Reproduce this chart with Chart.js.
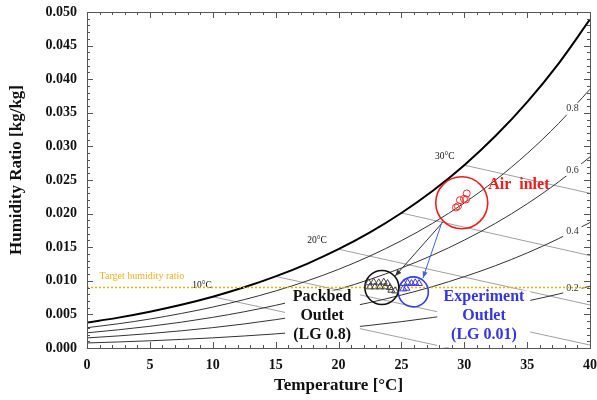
<!DOCTYPE html>
<html><head><meta charset="utf-8">
<script src="https://cdn.jsdelivr.net/npm/chart.js@4"></script>
<style>html,body{margin:0;padding:0;background:#fff}</style>
</head><body>
<canvas id="c" width="597" height="400"></canvas>
<script>
// ---- data ----
const temps = [0,2.5,5,7.5,10,12.5,15,17.5,20,22.5,25,27.5,30,32.5,35,37.5,40];
const rh100 = [0.00378,0.00452,0.00540,0.00643,0.00763,0.00903,0.01065,0.01253,0.01470,0.01720,0.02009,0.02340,0.02721,0.03158,0.03659,0.04233,0.04890];
const rh80  = [0.00302,0.00361,0.00431,0.00514,0.00609,0.00720,0.00849,0.00998,0.01170,0.01369,0.01597,0.01858,0.02158,0.02501,0.02893,0.03341,0.03851];
const rh60  = [0.00226,0.00271,0.00323,0.00384,0.00456,0.00539,0.00635,0.00746,0.00874,0.01021,0.01190,0.01383,0.01605,0.01857,0.02145,0.02472,0.02844];
const rh40  = [0.00150,0.00180,0.00215,0.00256,0.00303,0.00358,0.00422,0.00495,0.00580,0.00677,0.00788,0.00915,0.01061,0.01226,0.01414,0.01627,0.01868];
const rh20  = [0.00075,0.00090,0.00107,0.00128,0.00151,0.00179,0.00210,0.00247,0.00289,0.00337,0.00392,0.00454,0.00526,0.00607,0.00699,0.00803,0.00920];
const rhLabels = ['0.8','0.6','0.4','0.2'];
const rhLabelW = [0.0356,0.0265,0.0174,0.0089];

// wet-bulb lines (start on saturation, end at right edge / zero)
const wbNames = ['10°C','15°C','20°C','25°C','30°C'];
const wbT = [[10,28.8],[15,40],[20,40],[25,40],[30,40]];
const wbW = [[0.00763,0],[0.01065,0.00044],[0.01470,0.00640],[0.02009,0.01375],[0.02721,0.02302]];
const wbLabelText = ['10°C','20°C','30°C'];
const wbLabelT = [9.15,18.3,28.45];
const wbLabelW = [0.00925,0.01607,0.02857];

const targetW = 0.009;

const inletT = [30.2,29.98,30.14,29.66,29.5,29.34];
const inletW = [0.0230,0.0222,0.0221,0.0220,0.0211,0.0209];
const packT = [22.4,22.8,23.2,23.6,23.9,22.5,22.9,23.3,23.7,24.1,24.2,24.5];
const packW = [0.0097,0.0098,0.0097,0.0098,0.0096,0.0091,0.0091,0.0091,0.0091,0.0090,0.0086,0.0085];
const expT = [25.2,25.5,25.8,26.1,26.4,25.4,25.15];
const expW = [0.0096,0.0097,0.0096,0.0097,0.0096,0.0089,0.0088];

const xTicks = [0,5,10,15,20,25,30,35,40];
const yTicks = [0,0.005,0.010,0.015,0.020,0.025,0.030,0.035,0.040,0.045,0.050];

// ---- build datasets ----
const pts = (xs, ys) => xs.map((x,i)=>({x:x,y:ys[i]}));
const SERIF = "'Liberation Serif','Times New Roman',serif";

const datasets = [];
datasets.push({kind:'m', data:pts(inletT,inletW), showLine:false, pointStyle:'circle', pointRadius:3.5, borderColor:'#f03030', backgroundColor:'rgba(0,0,0,0)', borderWidth:1, order:1});
datasets.push({kind:'m', data:pts(packT,packW), showLine:false, pointStyle:'triangle', pointRadius:4, borderColor:'#444', backgroundColor:'rgba(0,0,0,0)', borderWidth:1, order:1});
datasets.push({kind:'m', data:pts(expT,expW), showLine:false, pointStyle:'triangle', pointRadius:4, borderColor:'#3a3ae8', backgroundColor:'rgba(0,0,0,0)', borderWidth:1, order:1});
datasets.push({kind:'m', data:[{x:29.8,y:0.02162}], showLine:false, pointRadius:26, borderColor:'#ee1c1c', backgroundColor:'rgba(0,0,0,0)', borderWidth:1.6, order:1});
datasets.push({kind:'m', data:[{x:23.45,y:0.0090}], showLine:false, pointRadius:17, borderColor:'#111', backgroundColor:'rgba(0,0,0,0)', borderWidth:1.6, order:1});
datasets.push({kind:'m', data:[{x:25.95,y:0.00835}], showLine:false, pointRadius:15, borderColor:'#2f3fe8', backgroundColor:'rgba(0,0,0,0)', borderWidth:1.6, order:1});
datasets.push({kind:'target', data:[{x:0,y:targetW},{x:40,y:targetW}], showLine:true, pointRadius:0, borderColor:'#f5ae00', borderWidth:1.6, borderDash:[2,2], order:2});
datasets.push({kind:'c', data:pts(temps,rh100), showLine:true, pointRadius:0, borderColor:'#000', borderWidth:2, cubicInterpolationMode:'monotone', order:3});
[rh80,rh60,rh40,rh20].forEach(a=>datasets.push({kind:'c', data:pts(temps,a), showLine:true, pointRadius:0, borderColor:'#333', borderWidth:1, cubicInterpolationMode:'monotone', order:3}));
wbT.forEach((t,i)=>datasets.push({kind:'c', data:pts(t,wbW[i]), showLine:true, pointRadius:0, borderColor:'#a0a0a0', borderWidth:1, order:4}));

function px(chart, x, y){ return [chart.scales.x.getPixelForValue(x), chart.scales.y.getPixelForValue(y)]; }

const deco = {
  id:'deco',
  beforeDatasetDraw(chart, args){
    if (chart.data.datasets[args.index].kind !== 'target') return;
    const ctx = chart.ctx;
    ctx.save();
    ctx.fillStyle = '#fff';
    let a = px(chart,15.75,0.00855), b = px(chart,21.7,0.00012);
    ctx.fillRect(a[0],a[1],b[0]-a[0],b[1]-a[1]);
    a = px(chart,27.85,0.00855); b = px(chart,35.25,0.00012);
    ctx.fillRect(a[0],a[1],b[0]-a[0],b[1]-a[1]);
    ctx.font = '10px ' + SERIF;
    ctx.textAlign = 'center'; ctx.textBaseline = 'middle';
    rhLabels.forEach((s,i)=>{
      const p = px(chart,38.6,rhLabelW[i]);
      const w = ctx.measureText(s).width + 6;
      ctx.fillStyle = '#fff'; ctx.fillRect(p[0]-w/2,p[1]-6,w,12);
      ctx.fillStyle = '#333'; ctx.fillText(s,p[0],p[1]);
    });
    ctx.font = '9.5px ' + SERIF; ctx.fillStyle = '#111';
    wbLabelText.forEach((s,i)=>{ const p = px(chart,wbLabelT[i],wbLabelW[i]); ctx.fillText(s,p[0],p[1]); });
    ctx.font = '10px ' + SERIF; ctx.fillStyle = '#f0b020'; ctx.textAlign='left';
    let p = px(chart,1.0,0.0107); ctx.fillText('Target humidity ratio',p[0],p[1]);
    ctx.font = 'bold 16px ' + SERIF; ctx.textAlign='center';
    ctx.fillStyle = '#111';
    [['Packbed',0.0076],['Outlet',0.0048],['(LG 0.8)',0.0019]].forEach(r=>{ const q=px(chart,18.7,r[1]); ctx.fillText(r[0],q[0],q[1]); });
    ctx.fillStyle = '#3434e8';
    [['Experiment',0.0076],['Outlet',0.0048],['(LG 0.01)',0.0019]].forEach(r=>{ const q=px(chart,31.57,r[1]); ctx.fillText(r[0],q[0],q[1]); });
    ctx.fillStyle = '#ee1c1c'; ctx.textAlign='left';
    p = px(chart,31.9,0.02426); ctx.fillText('Air  inlet',p[0],p[1]);
    ctx.restore();
  },
  afterDatasetsDraw(chart){
    const ctx = chart.ctx, ca = chart.chartArea;
    ctx.save();
    const arrow = (x1,y1,x2,y2,col)=>{
      const s = px(chart,x1,y1), e = px(chart,x2,y2);
      ctx.strokeStyle = col; ctx.fillStyle = col; ctx.lineWidth = 1;
      ctx.beginPath(); ctx.moveTo(s[0],s[1]); ctx.lineTo(e[0],e[1]); ctx.stroke();
      const ang = Math.atan2(e[1]-s[1], e[0]-s[0]), L = 7, H = 0.38;
      ctx.beginPath(); ctx.moveTo(e[0],e[1]);
      ctx.lineTo(e[0]-L*Math.cos(ang-H), e[1]-L*Math.sin(ang-H));
      ctx.lineTo(e[0]-L*Math.cos(ang+H), e[1]-L*Math.sin(ang+H));
      ctx.closePath(); ctx.fill();
    };
    arrow(28.31,0.01875,24.5,0.0107,'#333');
    arrow(28.23,0.01875,26.72,0.01042,'#4060f0');
    ctx.strokeStyle = '#555'; ctx.lineWidth = 1;
    ctx.strokeRect(Math.round(ca.left)+0.5, Math.round(ca.top)+0.5, Math.round(ca.right-ca.left), Math.round(ca.bottom-ca.top));
    ctx.beginPath();
    for (let t=0; t<=40; t+=1){
      const x = Math.round(chart.scales.x.getPixelForValue(t))+0.5, L = (t%5===0)?6:3;
      ctx.moveTo(x,ca.bottom); ctx.lineTo(x,ca.bottom-L);
      ctx.moveTo(x,ca.top); ctx.lineTo(x,ca.top+L);
    }
    for (let k=0; k<=50; k++){
      const y = Math.round(chart.scales.y.getPixelForValue(k/1000))+0.5, L = (k%5===0)?6:3;
      ctx.moveTo(ca.left,y); ctx.lineTo(ca.left+L,y);
      ctx.moveTo(ca.right,y); ctx.lineTo(ca.right-L,y);
    }
    ctx.stroke();
    ctx.translate(17,170); ctx.rotate(-Math.PI/2);
    ctx.font = 'bold 17px ' + SERIF; ctx.fillStyle = '#111'; ctx.textAlign='center'; ctx.textBaseline='middle';
    ctx.fillText('Humidity Ratio [kg/kg]',0,0);
    ctx.restore();
  }
};

new Chart(document.getElementById('c'), {
  type:'scatter',
  data:{datasets:datasets},
  options:{
    responsive:false, animation:false, devicePixelRatio:1,
    layout:{autoPadding:false, padding:{top:12,right:7,left:0,bottom:0}},
    plugins:{legend:{display:false}, tooltip:{enabled:false}},
    elements:{line:{tension:0}},
    scales:{
      x:{type:'linear', min:0, max:40,
        afterBuildTicks(s){ s.ticks = xTicks.map(v=>({value:v})); },
        afterFit(s){ s.height = 52; s.paddingLeft = 0; s.paddingRight = 0; },
        grid:{display:false, drawTicks:false}, border:{display:false},
        ticks:{padding:9, color:'#111', font:{family:SERIF, weight:'bold', size:14}, maxRotation:0},
        title:{display:true, text:'Temperature [°C]', color:'#111', font:{family:SERIF, weight:'bold', size:17}, padding:{top:0,bottom:4}}
      },
      y:{type:'linear', min:0, max:0.05,
        afterBuildTicks(s){ s.ticks = yTicks.map(v=>({value:v})); },
        afterFit(s){ s.width = 87; s.paddingTop = 0; s.paddingBottom = 0; },
        grid:{display:false, drawTicks:false}, border:{display:false},
        ticks:{padding:10, color:'#111', font:{family:SERIF, weight:'bold', size:14}, callback:v=>Number(v).toFixed(3)}
      }
    }
  },
  plugins:[deco]
});
</script>
</body></html>
